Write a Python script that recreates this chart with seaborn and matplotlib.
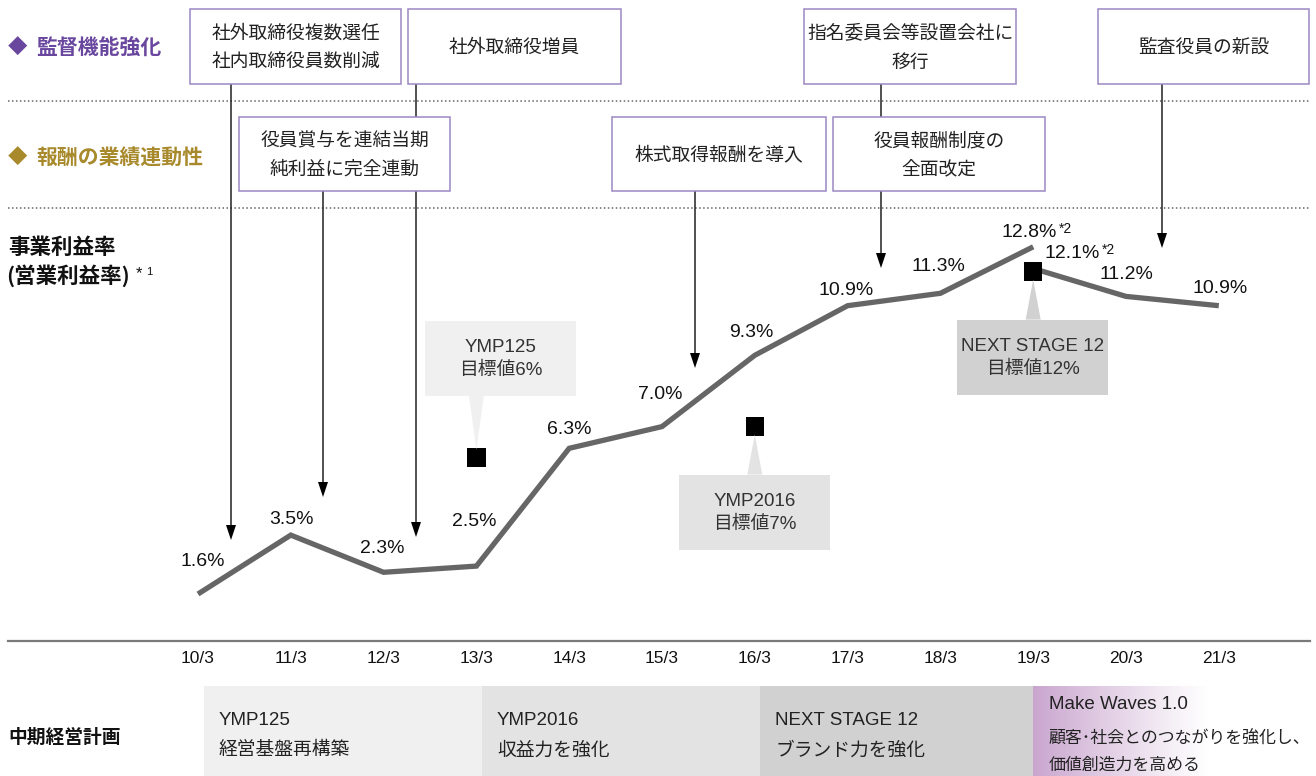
import numpy as np
import pandas as pd
import matplotlib
matplotlib.use("Agg")
import matplotlib.pyplot as plt
import seaborn as sns
from matplotlib.patches import Rectangle, Polygon

# ---------------- data ----------------
periods = ["10/3", "11/3", "12/3", "13/3", "14/3", "15/3",
           "16/3", "17/3", "18/3", "19/3", "20/3", "21/3"]
rate_before_periods = ["10/3", "11/3", "12/3", "13/3", "14/3", "15/3",
                       "16/3", "17/3", "18/3", "19/3"]
rate_before = [1.6, 3.5, 2.3, 2.5, 6.3, 7.0, 9.3, 10.9, 11.3, 12.8]
rate_after_periods = ["19/3", "20/3", "21/3"]
rate_after = [12.1, 11.2, 10.9]

target_plans = ["YMP125", "YMP2016", "NEXT STAGE 12"]
target_periods = ["13/3", "16/3", "19/3"]
target_values = [6, 7, 12]

plan_names = ["YMP125", "YMP2016", "NEXT STAGE 12", "Make Waves 1.0"]
plan_desc = ["経営基盤再構築", "収益力を強化", "ブランド力を強化",
             "顧客･社会とのつながりを強化し、\n価値創造力を高める"]
plan_start = ["10/3", "13/3", "16/3", "19/3"]
plan_end = ["13/3", "16/3", "19/3", None]

events_text = ["社外取締役複数選任\n社内取締役員数削減", "社外取締役増員",
               "役員賞与を連結当期\n純利益に完全連動", "株式取得報酬を導入",
               "指名委員会等設置会社に\n移行", "役員報酬制度の\n全面改定",
               "監査役員の新設"]

# ---------------- style ----------------
W, H = 1316, 776
sns.set_theme(style="white")
plt.rcParams['font.family'] = ['Liberation Sans', 'Noto Sans CJK JP', 'DejaVu Sans']
JP = ['Noto Sans CJK JP', 'DejaVu Sans']
LINE_C = "#666666"
PURPLE = "#6a479e"
GOLD = "#a88a2c"
BOX_EDGE = "#9b88c3"
FILLS = ["#eff0ef", "#e2e3e2", "#d0d1d0"]

fig = plt.figure(figsize=(W / 100, H / 100), dpi=100)

# main chart axes (bottom spine = horizontal rule at y=641px)
ax = fig.add_axes([8 / W, (H - 641) / H, 1302 / W, 641 / H])
ax.patch.set_alpha(0)
pos = {p: i for i, p in enumerate(periods)}
step = 92.8
ax.set_xlim((8 - 198) / step, (1310 - 198) / step)
k = 31.0
ax.set_ylim(1.6 - (641 - 594) / k, 1.6 + 594 / k)

df_b = pd.DataFrame({"x": [pos[p] for p in rate_before_periods], "rate": rate_before})
df_a = pd.DataFrame({"x": [pos[p] for p in rate_after_periods], "rate": rate_after})
sns.lineplot(data=df_b, x="x", y="rate", ax=ax, color=LINE_C, lw=3.8, sort=False)
sns.lineplot(data=df_a, x="x", y="rate", ax=ax, color=LINE_C, lw=3.8, sort=False)
for l in ax.lines:
    l.set_solid_capstyle("butt")
    l.set_solid_joinstyle("miter")

df_t = pd.DataFrame({"x": [pos[p] for p in target_periods], "v": target_values})
sns.scatterplot(data=df_t, x="x", y="v", ax=ax, marker="s", s=175,
                color="black", edgecolor="none", zorder=6)

# value labels
lab_x = [pos[p] for p in rate_before_periods] + [pos[p] for p in rate_after_periods]
lab_v = rate_before + rate_after
lab_off = [(5, -32), (1, -16), (-1, -24), (-2, -45), (0, -19), (-2, -32), (-3, -23),
           (-1, -15), (-2, -27), (-4, -14), (39, -15), (0, -22), (1, -17)]
lab_sup = [False] * 9 + [True, True, False, False]
for x, v, (dx, dy), sup in zip(lab_x, lab_v, lab_off, lab_sup):
    ax.annotate(f"{v:.1f}%", (x, v), xytext=(dx, -dy), textcoords="offset pixels",
                ha="center", va="center", fontsize=14, color="#111111")
    if sup:
        ax.annotate("*2", (x, v), xytext=(dx + 36, -dy + 4), textcoords="offset pixels",
                    ha="center", va="center", fontsize=10, color="#111111")

ax.set_xticks(range(len(periods)))
ax.set_xticklabels(periods, fontsize=12.5, color="#111111")
ax.tick_params(axis="x", length=0, pad=7)
ax.set_yticks([])
ax.set_xlabel("")
ax.set_ylabel("")
for s in ["top", "left", "right"]:
    ax.spines[s].set_visible(False)
ax.spines["bottom"].set_color("#7a7a7a")
ax.spines["bottom"].set_linewidth(1.6)

# band axes for mid-term plans
axb = fig.add_axes([8 / W, 0, 1302 / W, 90 / H], sharex=ax)
axb.set_ylim(0, 1)
axb.axis("off")
x_right = (1316 - 198) / step
for i, (nm, ds, s0, e0) in enumerate(zip(plan_names, plan_desc, plan_start, plan_end)):
    x0 = pos[s0] + (0.06 if i < 3 else 0)
    if e0 is not None:
        x1 = pos[e0] + (0.06 if i < 2 else 0)
        axb.add_patch(Rectangle((x0, 0), x1 - x0, 1, facecolor=FILLS[i],
                                edgecolor="none", clip_on=False))
        axb.annotate(nm, (x0, 0.62), xytext=(15, 0), textcoords="offset pixels",
                     ha="left", va="center", fontsize=13.5, color="#222222")
        axb.annotate(ds, (x0, 0.29), xytext=(15, 0), textcoords="offset pixels",
                     ha="left", va="center", fontsize=13.5, color="#222222", family=JP)
    else:
        n = 256
        grad = np.zeros((1, n, 4))
        c = np.array([0.79, 0.65, 0.81])
        tt = np.linspace(0, 1, n)
        a = np.clip(1 - tt / 0.62, 0, 1) ** 1.1
        grad[0, :, :3] = c * a[:, None] + (1 - a[:, None])
        grad[0, :, 3] = 1
        axb.imshow(grad, extent=[x0, x_right, 0, 1], aspect="auto",
                   interpolation="bilinear", clip_on=False, zorder=0)
        axb.set_xlim(ax.get_xlim())
        axb.set_ylim(0, 1)
        axb.annotate(nm, (x0, 0.79), xytext=(16, 0), textcoords="offset pixels",
                     ha="left", va="center", fontsize=13.5, color="#222222")
        axb.annotate(ds, (x0, 0.27), xytext=(15, 0), textcoords="offset pixels",
                     ha="left", va="center", fontsize=12.2, color="#222222",
                     family=JP, linespacing=1.6)

# overlay axes in pixel coordinates for the layout elements
ov = fig.add_axes([0, 0, 1, 1])
ov.set_xlim(0, W)
ov.set_ylim(H, 0)
ov.axis("off")
ov.patch.set_alpha(0)

# row labels
ov.text(8, 47, "◆", color=PURPLE, fontsize=14, va="center", ha="left", family=JP)
ov.text(36, 47, "監督機能強化", color=PURPLE, fontsize=15, va="center", ha="left",
        family=JP, weight="bold")
ov.text(8, 157, "◆", color=GOLD, fontsize=14, va="center", ha="left", family=JP)
ov.text(36, 157, "報酬の業績連動性", color=GOLD, fontsize=15, va="center", ha="left",
        family=JP, weight="bold")
ov.text(8, 247, "事業利益率", fontsize=15.5, va="center", ha="left", family=JP,
        weight="bold", color="#111111")
ov.text(6, 276, "(営業利益率)", fontsize=15.5, va="center", ha="left", family=JP,
        weight="bold", color="#111111")
ov.text(136, 274, "*", fontsize=12, va="center", ha="left", color="#111111")
ov.text(146, 272, "1", fontsize=8, va="center", ha="left", color="#111111")
ov.text(8, 737, "中期経営計画", fontsize=13.5, va="center", ha="left", family=JP,
        weight="bold", color="#111111")

# dotted separators
for yy in [101, 208]:
    ov.plot([8, 1310], [yy, yy], color="#666666", lw=1.1, ls=(0, (1, 1.6)))

# arrows from event boxes
arrows = [(231, 84, 540), (416, 84, 537), (323, 191, 497), (695, 191, 368),
          (881, 84, 268), (1162, 84, 248)]
for x, y0, y1 in arrows:
    ov.plot([x, x], [y0, y1 - 12], color="#222222", lw=1.1, zorder=2)
    ov.add_patch(Polygon([(x - 5, y1 - 15), (x + 5, y1 - 15), (x, y1)],
                         closed=True, facecolor="black", edgecolor="none", zorder=2))

# event boxes
boxes = [(190, 9, 401, 84), (408, 9, 621, 84), (239, 117, 450, 191),
         (612, 117, 826, 191), (804, 9, 1016, 84), (833, 117, 1045, 191),
         (1098, 9, 1309, 84)]
for (x0, y0, x1, y1), txt in zip(boxes, events_text):
    ov.add_patch(Rectangle((x0, y0), x1 - x0, y1 - y0, facecolor="white",
                           edgecolor=BOX_EDGE, lw=1.1, zorder=3))
    ov.text((x0 + x1) / 2, (y0 + y1) / 2 + 1, txt, ha="center", va="center",
            fontsize=13.5, family=JP, color="#222222", linespacing=1.5, zorder=4)

# target callouts
callout_side = ["above", "below", "below"]
for i, (pl, tp, tv) in enumerate(zip(target_plans, target_periods, target_values)):
    dx, dy = ax.transData.transform((pos[tp], tv))
    mx, my = dx, H - dy
    if callout_side[i] == "above":
        bx, by = mx - 51, my - 137
        tri = [(mx - 7.5, by + 75), (mx + 7.5, by + 75), (mx, my - 8)]
    else:
        bx, by = mx - 76, my + 48
        tri = [(mx - 7.5, by), (mx + 7.5, by), (mx, my + 8)]
    ov.add_patch(Rectangle((bx, by), 151, 75, facecolor=FILLS[i], edgecolor="none", zorder=1))
    ov.add_patch(Polygon(tri, closed=True, facecolor=FILLS[i], edgecolor="none", zorder=1))
    ov.text(bx + 75.5, by + 38, f"{pl}\n目標値{tv}%", ha="center", va="center",
            fontsize=13.5, color="#333333", linespacing=1.45, zorder=2)

fig.savefig("out.png", dpi=100)
